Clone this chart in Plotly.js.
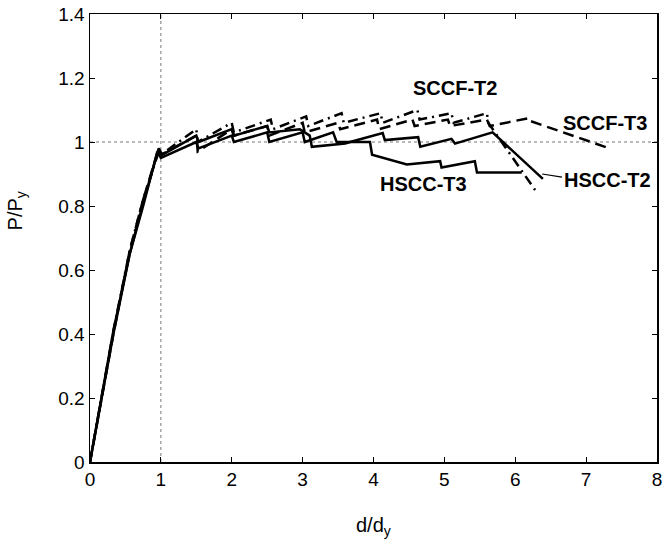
<!DOCTYPE html>
<html>
<head>
<meta charset="utf-8">
<script src="https://cdn.plot.ly/plotly-3.0.1.min.js"></script>
<style>html,body{margin:0;padding:0;background:#fff;}#chart{width:668px;height:546px;}</style>
</head>
<body>
<div id="chart"></div>
<script>
// HSCC-T2 (solid)
const hsccT2_x = [0,0.33,0.56,0.75,0.97,1.02,1.5,1.53,2.0,2.03,2.5,2.53,2.96,3.1,3.13,3.6,3.67,4.13,4.16,4.63,4.66,5.1,5.15,5.68,6.39];
const hsccT2_y = [0,0.40,0.65,0.81,0.98,0.96,1.02,1.0,1.04,1.02,1.05,1.03,1.04,1.02,0.985,0.995,1.0,1.028,1.006,1.015,0.985,1.01,0.995,1.03,0.885];
// HSCC-T3 (solid)
const hsccT3_x = [0,0.33,0.56,0.75,0.95,1.0,1.5,1.53,2.0,2.03,2.5,2.53,3.0,3.03,3.43,3.48,3.95,3.98,4.47,4.94,4.96,5.43,5.46,6.09];
const hsccT3_y = [0,0.41,0.65,0.80,0.97,0.95,1.0,0.98,1.02,1.0,1.03,1.0,1.03,1.0,1.03,1.0,1.0,0.96,0.93,0.94,0.92,0.94,0.905,0.905];
// SCCF-T2 (dash-dot)
const sccfT2_x = [0,0.33,0.56,0.75,0.97,1.0,1.5,1.52,2.0,2.03,2.55,2.58,3.05,3.08,3.55,3.58,4.1,4.13,4.62,4.65,5.1,5.13,5.6,5.62,6.28];
const sccfT2_y = [0,0.41,0.66,0.82,0.97,0.96,1.04,1.0,1.06,1.03,1.07,1.04,1.08,1.05,1.09,1.06,1.09,1.06,1.10,1.07,1.09,1.06,1.09,1.06,0.85];
// SCCF-T3 (dashed)
const sccfT3_x = [0,0.33,0.56,0.75,0.97,1.0,1.5,1.52,2.0,2.03,2.5,2.53,3.0,3.03,3.5,3.53,4.05,4.08,4.55,4.58,5.05,5.08,5.6,5.64,6.2,6.22,7.33];
const sccfT3_y = [0,0.40,0.66,0.82,0.98,0.96,1.02,0.97,1.04,1.02,1.05,1.02,1.06,1.03,1.06,1.04,1.07,1.04,1.07,1.05,1.07,1.05,1.07,1.05,1.075,1.065,0.98];
// leader line from HSCC-T2 end to its label
const leader_x = [6.38,6.66];
const leader_y = [0.90,0.89];

const xTicks = [0,1,2,3,4,5,6,7,8];
const yTicks = [0,0.2,0.4,0.6,0.8,1,1.2,1.4];
const yTickText = ['0','0.2','0.4','0.6','0.8','1','1.2','1.4'];

const labels = [
  {text:'SCCF-T2', x:5.15, y:1.17},
  {text:'SCCF-T3', x:7.26, y:1.06},
  {text:'HSCC-T3', x:4.7, y:0.868},
  {text:'HSCC-T2', x:7.3, y:0.88}
];

const lw = 2.5;
const traces = [
  {x:hsccT2_x, y:hsccT2_y, mode:'lines', line:{color:'#000', width:lw}},
  {x:hsccT3_x, y:hsccT3_y, mode:'lines', line:{color:'#000', width:lw}},
  {x:sccfT2_x, y:sccfT2_y, mode:'lines', line:{color:'#000', width:lw, dash:'10px,5px,2px,5px'}},
  {x:sccfT3_x, y:sccfT3_y, mode:'lines', line:{color:'#000', width:lw, dash:'11px,6px'}},
  {x:leader_x, y:leader_y, mode:'lines', line:{color:'#000', width:1.2}}
];

const font = 'Liberation Sans, Arial, Helvetica, sans-serif';
const axisCommon = {
  showgrid:false, zeroline:false, showline:true, linecolor:'#000', linewidth:1.5,
  mirror:'ticks', ticks:'inside', ticklen:5, tickwidth:1, tickcolor:'#000',
  tickfont:{family:font, size:19, color:'#000'}
};

const layout = {
  width:668, height:546,
  margin:{l:90, r:11, t:14, b:84},
  paper_bgcolor:'#fff', plot_bgcolor:'#fff',
  showlegend:false,
  xaxis:Object.assign({}, axisCommon, {range:[0,8], tickvals:xTicks, ticktext:xTicks.map(String)}),
  yaxis:Object.assign({}, axisCommon, {range:[0,1.4], tickvals:yTicks, ticktext:yTickText}),
  shapes:[
    {type:'line', xref:'x', yref:'y', x0:1, x1:1, y0:0, y1:1.4, line:{color:'#777', width:1, dash:'dot'}, layer:'below'},
    {type:'line', xref:'x', yref:'y', x0:0, x1:8, y0:1, y1:1, line:{color:'#777', width:1, dash:'dot'}, layer:'below'}
  ],
  annotations: labels.map(l => ({x:l.x, y:l.y, xref:'x', yref:'y', text:'<b>'+l.text+'</b>', showarrow:false,
      font:{family:font, size:20, color:'#000'}})).concat([
    {x:0.5, y:-0.145, xref:'paper', yref:'paper', yanchor:'middle', text:'d/d<sub>y</sub>', showarrow:false, font:{family:font, size:20, color:'#000'}},
    {x:-0.13, y:0.56, xref:'paper', yref:'paper', xanchor:'center', text:'P/P<sub>y</sub>', textangle:-90, showarrow:false, font:{family:font, size:20, color:'#000'}}
  ])
};

Plotly.newPlot('chart', traces, layout, {displayModeBar:false, staticPlot:true});
</script>
</body>
</html>
